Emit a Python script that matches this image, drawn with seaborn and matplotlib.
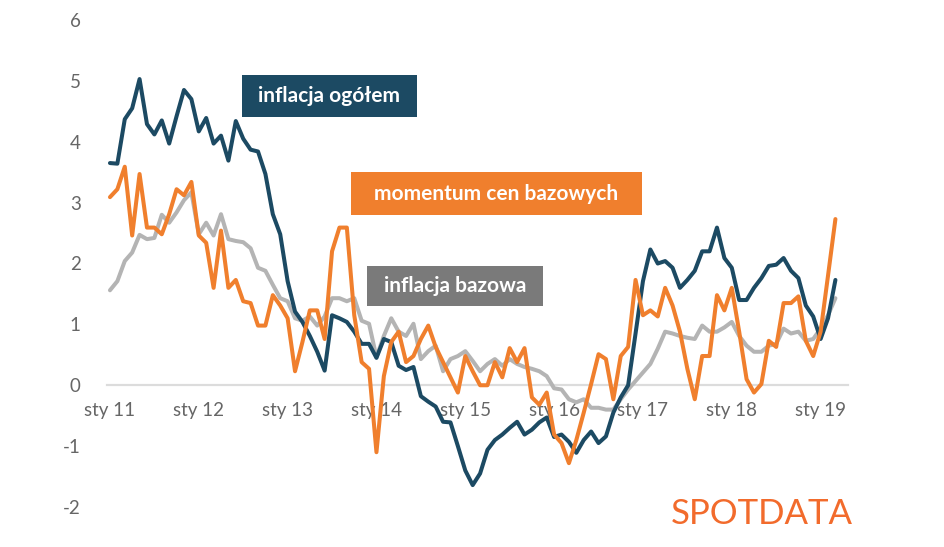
import numpy as np
import pandas as pd
import matplotlib
matplotlib.use("Agg")
import matplotlib.pyplot as plt
import seaborn as sns
from matplotlib.patches import Rectangle

# Monthly series, Jan 2011 - Mar 2019
inflacja_ogolem = [
    3.65, 3.64, 4.37, 4.55, 5.03, 4.29, 4.12, 4.35, 3.97, 4.42, 4.85, 4.70,
    4.17, 4.39, 3.97, 4.10, 3.69, 4.34, 4.05, 3.87, 3.84, 3.47, 2.81, 2.48,
    1.71, 1.21, 1.04, 0.81, 0.55, 0.24, 1.15, 1.10, 1.04, 0.88, 0.68, 0.68,
    0.45, 0.76, 0.71, 0.32, 0.25, 0.30, -0.18, -0.27, -0.35, -0.60, -0.61, -1.00,
    -1.40, -1.64, -1.45, -1.06, -0.90, -0.81, -0.70, -0.60, -0.81, -0.73, -0.61, -0.53,
    -0.85, -0.81, -0.93, -1.11, -0.90, -0.76, -0.95, -0.84, -0.45, -0.20, 0.00, 0.85,
    1.71, 2.23, 2.00, 2.04, 1.93, 1.60, 1.73, 1.88, 2.20, 2.20, 2.59, 2.09,
    1.93, 1.40, 1.40, 1.60, 1.76, 1.96, 1.98, 2.09, 1.88, 1.76, 1.31, 1.13,
    0.76, 1.10, 1.73,
]
momentum = [
    3.09, 3.22, 3.59, 2.46, 3.47, 2.59, 2.59, 2.48, 2.81, 3.22, 3.12, 3.34,
    2.46, 2.34, 1.60, 2.54, 1.60, 1.73, 1.38, 1.35, 0.98, 0.98, 1.48, 1.31,
    1.10, 0.23, 0.71, 1.23, 1.23, 0.76, 2.20, 2.59, 2.59, 1.15, 0.38, 0.27,
    -1.10, 0.15, 0.71, 0.88, 0.38, 0.48, 0.76, 0.98, 0.63, 0.38, 0.13, -0.12,
    0.48, 0.23, 0.00, 0.00, 0.38, 0.13, 0.61, 0.38, 0.61, -0.20, -0.32, -0.12,
    -0.81, -0.95, -1.28, -0.90, -0.45, 0.02, 0.51, 0.43, -0.23, 0.48, 0.63, 1.73,
    1.15, 1.23, 1.13, 1.60, 1.31, 0.88, 0.27, -0.23, 0.48, 0.48, 1.48, 1.23,
    1.60, 0.88, 0.10, -0.12, 0.02, 0.73, 0.63, 1.35, 1.35, 1.46, 0.73, 0.48,
    0.88, 1.80, 2.73,
]
inflacja_bazowa = [
    1.56, 1.71, 2.04, 2.18, 2.47, 2.40, 2.42, 2.80, 2.67, 2.84, 3.04, 3.17,
    2.48, 2.67, 2.46, 2.81, 2.40, 2.37, 2.35, 2.25, 1.93, 1.88, 1.65, 1.43,
    1.38, 1.10, 1.06, 1.13, 0.98, 1.13, 1.43, 1.43, 1.38, 1.43, 1.06, 1.01,
    0.46, 0.81, 1.10, 0.88, 0.81, 1.01, 0.43, 0.56, 0.65, 0.23, 0.43, 0.48,
    0.56, 0.40, 0.23, 0.35, 0.43, 0.32, 0.43, 0.35, 0.30, 0.27, 0.23, 0.15,
    -0.05, -0.07, -0.23, -0.28, -0.23, -0.37, -0.37, -0.40, -0.40, -0.23, -0.07, 0.07,
    0.21, 0.35, 0.60, 0.88, 0.85, 0.81, 0.78, 0.76, 0.98, 0.88, 0.88, 0.95,
    1.04, 0.81, 0.65, 0.55, 0.55, 0.65, 0.68, 0.93, 0.85, 0.88, 0.73, 0.76,
    0.93, 1.15, 1.43,
]
tick_labels = ["sty 11", "sty 12", "sty 13", "sty 14", "sty 15",
               "sty 16", "sty 17", "sty 18", "sty 19"]
y_ticks = [-2, -1, 0, 1, 2, 3, 4, 5, 6]

NAVY = "#1c4a63"
ORANGE = "#f07f2d"
GRAY_LINE = "#b4b4b4"
GRAY_BOX = "#7a7a7a"
TXT = "#666666"

months = np.arange(len(inflacja_ogolem))
df = pd.DataFrame({
    "miesiac": np.tile(months, 3),
    "wartosc": inflacja_bazowa + inflacja_ogolem + momentum,
    "seria": (["inflacja bazowa"] * len(months) + ["inflacja ogółem"] * len(months)
              + ["momentum cen bazowych"] * len(months)),
})

sns.set_theme(style="white")
plt.rcParams["font.family"] = ["Lato", "DejaVu Sans"]

fig = plt.figure(figsize=(9.45, 5.47), dpi=100)
ax = fig.add_axes([107 / 945, 1 - 507 / 547, (848 - 107) / 945, (507 - 20) / 547])

sns.lineplot(data=df, x="miesiac", y="wartosc", hue="seria",
             palette={"inflacja bazowa": GRAY_LINE, "inflacja ogółem": NAVY,
                      "momentum cen bazowych": ORANGE},
             linewidth=2.9, legend=False, ax=ax)

ax.set_xlim(-0.4, 99.7)
ax.set_ylim(-2, 6)
ax.set_xlabel("")
ax.set_ylabel("")
ax.set_xticks(np.arange(0, 97, 12))
ax.set_xticklabels(tick_labels)
ax.set_yticks(y_ticks)
ax.set_yticklabels([str(v) for v in y_ticks])
ax.tick_params(axis="both", length=0, labelsize=13.5, colors=TXT)
ax.tick_params(axis="y", pad=19)
ax.tick_params(axis="x", pad=12)
for side in ["top", "right", "left"]:
    ax.spines[side].set_visible(False)
ax.spines["bottom"].set_position(("data", 0))
ax.spines["bottom"].set_color("#dcdcdc")
ax.spines["bottom"].set_linewidth(1.6)
ax.spines["bottom"].set_zorder(0)

# labelled boxes (pixel boxes of the reference)
boxes = [
    ("inflacja ogółem", NAVY, 242, 75, 417, 117),
    ("momentum cen bazowych", ORANGE, 351, 172, 642, 215),
    ("inflacja bazowa", GRAY_BOX, 367, 266, 543, 306),
]
W, H = 945, 547
for label, col, x0, y0, x1, y1 in boxes:
    fig.add_artist(Rectangle((x0 / W, 1 - y1 / H), (x1 - x0) / W, (y1 - y0) / H,
                             transform=fig.transFigure, facecolor=col,
                             edgecolor="none", zorder=5))
    fig.text((x0 + x1) / 2 / W, 1 - (y0 + y1) / 2 / H, label, color="white",
             fontsize=15, fontweight="bold", ha="center", va="center", zorder=6)

fig.text(853 / W, 1 - 514 / H, "SPOTDATA", color="#f26b2c", fontsize=25,
         fontweight="normal", ha="right", va="center")

fig.savefig("out.png", dpi=100, facecolor="white")
